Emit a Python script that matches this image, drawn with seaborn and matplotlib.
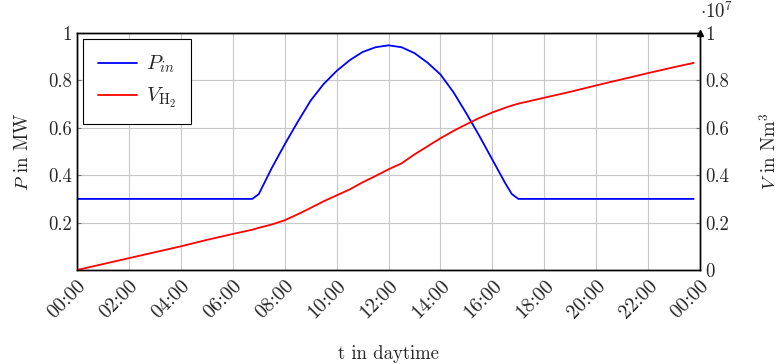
import matplotlib
matplotlib.use('Agg')
import matplotlib.pyplot as plt
import seaborn as sns
import pandas as pd

sns.set_style('white')
plt.rcParams['font.family'] = 'serif'
plt.rcParams['font.serif'] = ['cmr10', 'DejaVu Serif']
plt.rcParams['mathtext.fontset'] = 'cm'
plt.rcParams['axes.formatter.use_mathtext'] = True
plt.rcParams['font.size'] = 13

# time of day in hours
t_hours = [0, 1, 2, 3, 4, 5, 6, 6.75, 7, 7.5, 8, 8.5, 9, 9.5, 10, 10.5, 11, 11.5,
           12, 12.5, 13, 13.5, 14, 14.5, 15, 15.5, 16, 16.5, 16.75, 17, 18, 19,
           20, 21, 22, 23, 23.75]
# input power in MW
p_in = [0.3, 0.3, 0.3, 0.3, 0.3, 0.3, 0.3, 0.3, 0.32, 0.43, 0.53, 0.625, 0.715,
        0.785, 0.84, 0.885, 0.92, 0.94, 0.948, 0.94, 0.915, 0.875, 0.825, 0.75,
        0.66, 0.565, 0.465, 0.365, 0.32, 0.3, 0.3, 0.3, 0.3, 0.3, 0.3, 0.3, 0.3]
# hydrogen volume in 1e7 Nm^3
v_h2 = [0, 0.025, 0.05, 0.075, 0.1, 0.127, 0.152, 0.17, 0.178, 0.192, 0.21,
        0.235, 0.262, 0.29, 0.315, 0.34, 0.37, 0.397, 0.425, 0.45, 0.488, 0.522,
        0.556, 0.587, 0.615, 0.642, 0.665, 0.685, 0.694, 0.702, 0.727, 0.752,
        0.779, 0.805, 0.831, 0.856, 0.874]

tick_hours = list(range(0, 25, 2))
tick_labels = [f'{h % 24:02d}:00' for h in tick_hours]

df = pd.DataFrame({'t': t_hours, 'P': p_in, 'V': v_h2})

fig = plt.figure(figsize=(7.79, 3.64), dpi=100)
ax = fig.add_axes([0.0988, 0.2582, 0.8, 0.6511])
ax2 = ax.twinx()

sns.lineplot(data=df, x='t', y='P', ax=ax, color='#0000ff', lw=1.3, label='$P_{in}$', legend=False)
sns.lineplot(data=df, x='t', y='V', ax=ax2, color='#ff0000', lw=1.3, label=r'$V_{\mathrm{H}_2}$', legend=False)

ax.set_xlim(0, 24)
ax.set_ylim(0, 1)
ax2.set_ylim(0, 1)
ax.set_xticks(tick_hours)
ax.set_xticklabels(tick_labels, rotation=45, ha='right', rotation_mode='anchor')
ax.set_yticks([0.2, 0.4, 0.6, 0.8, 1])
ax.set_yticklabels(['0.2', '0.4', '0.6', '0.8', '1'])
ax2.set_yticks([0, 0.2, 0.4, 0.6, 0.8, 1])
ax2.set_yticklabels(['0', '0.2', '0.4', '0.6', '0.8', '1'])
ax.grid(True, color='#c8c8c8', lw=0.8)
ax.tick_params(direction='in', length=3, color='#777777', labelsize=13.5)
ax.tick_params(axis='x', labelsize=14.5, pad=5)
ax2.tick_params(direction='in', length=3, color='#777777', labelsize=13.5)
for a in (ax, ax2):
    for s in a.spines.values():
        s.set_color('black')
        s.set_linewidth(1.0)

ax.set_xlabel('t in daytime', fontsize=13.5)
ax.set_ylabel('$P$ in MW', fontsize=13.5, labelpad=12)
ax2.set_ylabel('$V$ in Nm$^3$', fontsize=13.5, labelpad=22)
ax.xaxis.set_label_coords(0.5, -0.315)

ax2.text(1.0, 1.045, r'$\cdot 10^7$', transform=ax2.transAxes, fontsize=13.5, va='bottom', ha='left')
ax2.plot(1, 1, '^k', transform=ax2.transAxes, clip_on=False, markersize=4)

h1, l1 = ax.get_legend_handles_labels()
h2, l2 = ax2.get_legend_handles_labels()
leg = ax2.legend(h1 + h2, l1 + l2, loc='upper left', fancybox=False, framealpha=1,
                 edgecolor='black', fontsize=15, borderpad=0.7, handlelength=1.9,
                 borderaxespad=0.3, handletextpad=0.4)
leg.get_frame().set_linewidth(0.8)

fig.savefig('out.png', dpi=100)
